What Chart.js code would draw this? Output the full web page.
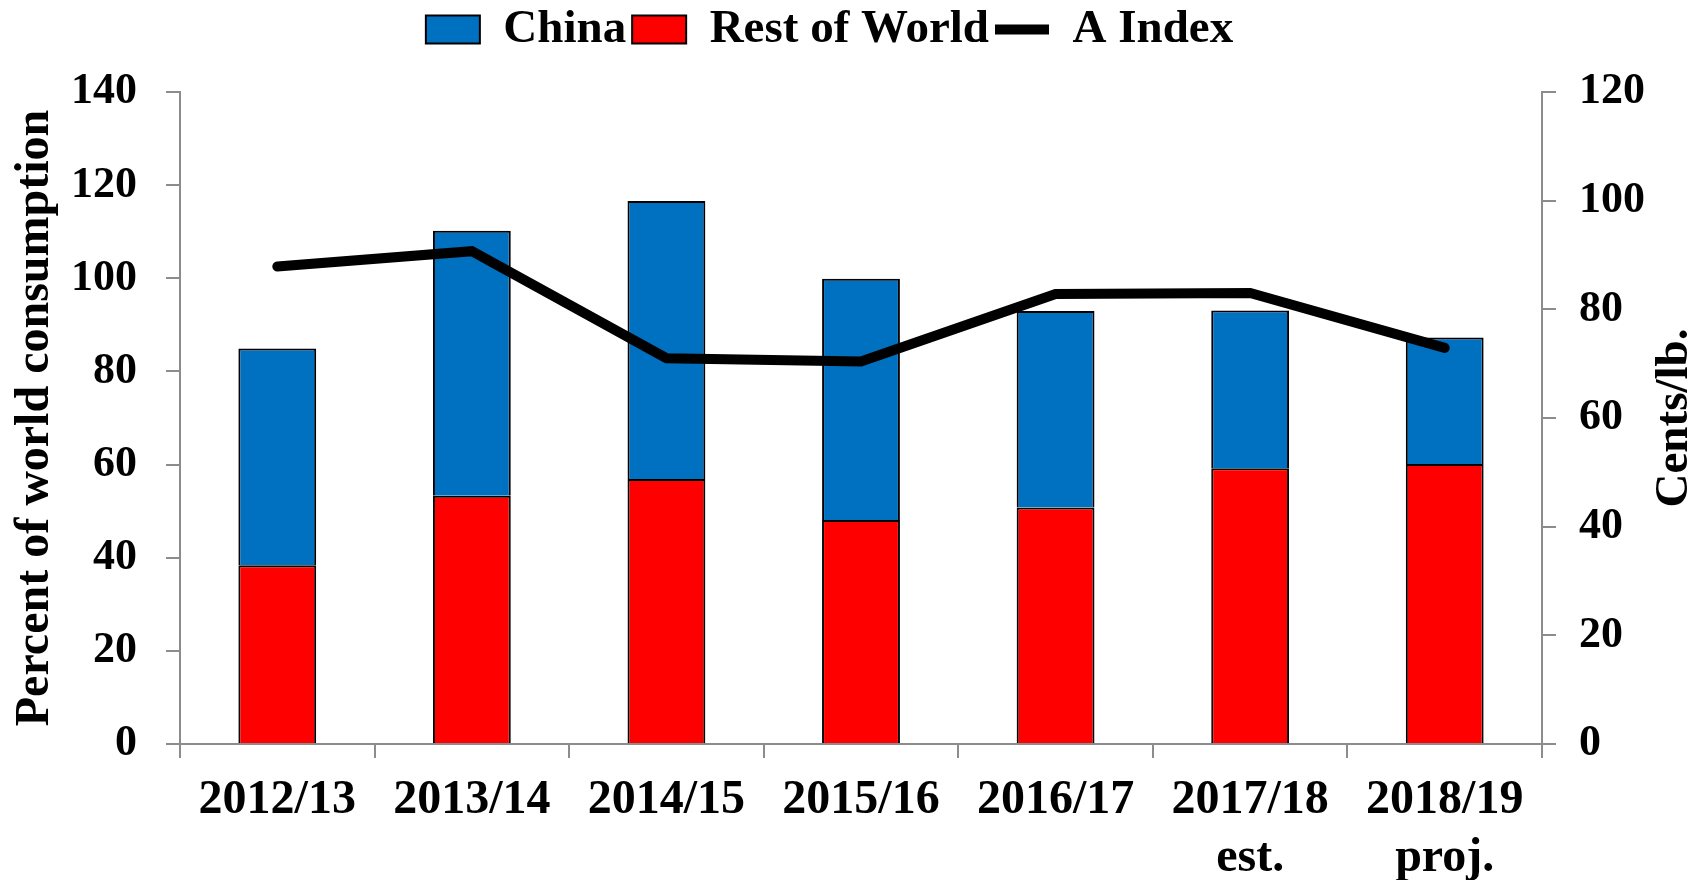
<!DOCTYPE html>
<html>
<head>
<meta charset="utf-8">
<script src="https://cdn.jsdelivr.net/npm/chart.js@4.4.0/dist/chart.umd.min.js"></script>
<style>
  html, body { margin: 0; padding: 0; background: #fff; }
  #wrap { width: 1704px; height: 880px; position: relative; }
</style>
</head>
<body>
<div id="wrap"><canvas id="grafico"></canvas></div>
<script>
// dados
const safras = ['2012/13', '2013/14', '2014/15', '2015/16', '2016/17', '2017/18', '2018/19'];
const notas = ['', '', '', '', '', 'est.', 'proj.'];
const china = [46.5, 56.9, 59.7, 51.8, 42.2, 33.9, 27.2];
const restoMundo = [38.4, 53.3, 56.9, 48.1, 50.8, 59.2, 60.1];
const indiceA = [87.9, 90.7, 71.0, 70.4, 82.8, 83.0, 72.9];
const ticksEsq = [0, 20, 40, 60, 80, 100, 120, 140];
const ticksDir = [0, 20, 40, 60, 80, 100, 120];

const FONTE = "'Liberation Serif', 'Times New Roman', serif";
const CINZA = '#8c8c8c';

const rotulos = safras.map((s, i) => notas[i] ? [s, notas[i]] : s);

// titulo do eixo direito lendo de baixo para cima (como no original)
const tituloDireita = {
    id: 'tituloDireita',
    afterDraw(chart) {
        const ctx = chart.ctx;
        const area = chart.chartArea;
        ctx.save();
        ctx.translate(1675, (area.top + area.bottom) / 2);
        ctx.rotate(-Math.PI / 2);
        ctx.font = 'bold 47px ' + FONTE;
        ctx.fillStyle = '#000';
        ctx.textAlign = 'center';
        ctx.textBaseline = 'middle';
        ctx.fillText('Cents/lb.', 0, 0);
        ctx.restore();
    }
};

// legenda ocupa mais altura para afastar o gráfico do topo
const alturaLegenda = {
    id: 'alturaLegenda',
    beforeInit(chart) {
        const fitOriginal = chart.legend.fit;
        chart.legend.fit = function () {
            fitOriginal.call(this);
            this.height = 92;
        };
    }
};

new Chart(document.getElementById('grafico'), {
    type: 'bar',
    data: {
        labels: rotulos,
        datasets: [
            {
                label: 'China',
                data: china,
                backgroundColor: '#0070C0',
                borderColor: '#000',
                borderWidth: 2,
                pointStyle: 'rect',
                yAxisID: 'y',
                order: 2
            },
            {
                label: 'Rest of World',
                data: restoMundo,
                backgroundColor: '#FF0000',
                borderColor: '#000',
                borderWidth: 2,
                pointStyle: 'rect',
                yAxisID: 'y',
                order: 1
            },
            {
                type: 'line',
                label: 'A Index',
                data: indiceA,
                borderColor: '#000',
                backgroundColor: '#000',
                borderWidth: 10,
                borderCapStyle: 'round',
                borderJoinStyle: 'miter',
                pointRadius: 0,
                pointStyle: 'line',
                tension: 0,
                yAxisID: 'y1',
                order: 0
            }
        ]
    },
    options: {
        responsive: true,
        maintainAspectRatio: false,
        animation: false,
        datasets: {
            bar: { categoryPercentage: 0.8, barPercentage: 0.5 }
        },
        layout: { padding: { left: 7, right: 52, top: 0, bottom: 0 } },
        plugins: {
            tooltip: { enabled: false },
            legend: {
                position: 'top',
                labels: {
                    usePointStyle: true,
                    pointStyleWidth: 54,
                    boxHeight: 28,
                    padding: 6,
                    color: '#000',
                    font: { family: FONTE, size: 47, weight: 'bold' },
                    sort: (a, b) => a.datasetIndex - b.datasetIndex
                }
            }
        },
        scales: {
            x: {
                stacked: true,
                afterFit: s => { s.height = 136; },
                grid: { offset: true, drawOnChartArea: false, color: CINZA, lineWidth: 2, tickLength: 14 },
                border: { color: CINZA, width: 2 },
                ticks: {
                    color: '#000',
                    padding: 14,
                    maxRotation: 0,
                    autoSkip: false,
                    font: { family: FONTE, size: 48, weight: 'bold', lineHeight: 1.2 }
                }
            },
            y: {
                stacked: true,
                position: 'left',
                min: 0,
                max: 140,
                afterBuildTicks: s => { s.ticks = ticksEsq.map(v => ({ value: v })); },
                afterFit: s => { s.width = 173; },
                grid: { drawOnChartArea: false, color: CINZA, lineWidth: 2, tickLength: 14 },
                border: { color: CINZA, width: 2 },
                ticks: {
                    color: '#000',
                    padding: 29,
                    font: { family: FONTE, size: 44, weight: 'bold' }
                },
                title: {
                    display: true,
                    text: 'Percent of world consumption',
                    color: '#000',
                    padding: { top: 0, bottom: 12 },
                    font: { family: FONTE, size: 48, weight: 'bold', lineHeight: 1.2 }
                }
            },
            y1: {
                position: 'right',
                min: 0,
                max: 120,
                afterBuildTicks: s => { s.ticks = ticksDir.map(v => ({ value: v })); },
                afterFit: s => { s.width = 110; },
                grid: { drawOnChartArea: false, color: CINZA, lineWidth: 2, tickLength: 14 },
                border: { color: CINZA, width: 2 },
                ticks: {
                    color: '#000',
                    padding: 23,
                    font: { family: FONTE, size: 44, weight: 'bold' }
                }
            }
        }
    },
    plugins: [tituloDireita, alturaLegenda]
});
</script>
</body>
</html>
